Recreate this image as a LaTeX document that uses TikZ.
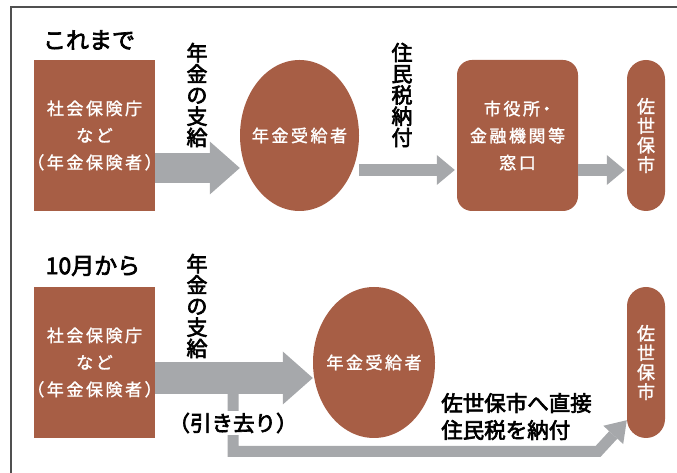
\documentclass[tikz,border=0pt]{standalone}
\usepackage{fontspec}
\setmainfont{Noto Sans CJK JP}
\newfontfamily\boxfont[LetterSpace=15,RawFeature=+halt,FakeBold=1.5]{Noto Sans CJK JP}
\newfontfamily\cityfont[FakeBold=1.5]{Noto Sans CJK JP}
\newfontfamily\blackfont[RawFeature=+halt,FakeBold=3]{Noto Sans CJK JP}
\usetikzlibrary{arrows.meta,shapes.geometric}
\definecolor{boxc}{RGB}{167,94,69}
\definecolor{arrowc}{RGB}{166,168,171}
\definecolor{framec}{RGB}{80,80,80}
\def\boxwd{121pt}
\def\boxht{151pt}
\tikzset{
  orgbox/.style={fill=boxc, minimum width=\boxwd, minimum height=\boxht, inner sep=0pt,
    text=white, align=center, font=\boxfont\fontsize{17}{27}\selectfont},
  person/.style={orgbox, ellipse, inner xsep=-12pt},
  office/.style={orgbox, rounded corners=15pt},
  city/.style={orgbox, minimum width=38pt, rounded corners=19pt,
    font=\cityfont\fontsize{18}{19.5}\selectfont},
  title/.style={inner sep=0pt, font=\blackfont\fontsize{23}{27}\selectfont},
  vlabel/.style={inner sep=0pt, align=center, font=\blackfont\fontsize{21}{21.2}\selectfont},
  note/.style={inner sep=2pt, align=left, font=\blackfont\fontsize{21.5}{27}\selectfont},
  bigarrow/.style={draw=arrowc, line width=#1, -{Triangle[length=30pt,width=53pt,line width=0pt]}},
  bigarrow/.default=30pt,
  thinarrow/.style={draw=arrowc, line width=12pt, -{Triangle[length=18pt,width=30pt,line width=0pt]}},
  bentarrow/.style={draw=arrowc, line width=11pt, line join=miter,
    -{Triangle[length=20pt,width=27pt,line width=0pt]}}
}

\begin{document}
\begin{tikzpicture} [x=1pt, y=1pt]
\useasboundingbox (0,0) rectangle (677,473);
\draw [framec, line width=1.5pt] (11,0) -- (11,466) -- (677,466);
\begin{scope} [shift={(0,337.5)}]
  \node (title1) at (89,95.5) [title] {これまで};
  \node (box1) at (94.5,0) [orgbox] {社会保険庁\\など\\（年金保険者）};
  \node (lbl1) at (197,40.5) [vlabel] {年\\金\\の\\支\\給};
  \node (ell1) at (299.5,0) [person, minimum width=119pt] {年金受給者};
  \node (lbl2) at (402,40.5) [vlabel] {住\\民\\税\\納\\付};
  \node (box2) at (517.5,0) [office] {市役所・\\金融機関等\\窓口};
  \node (pill1) at (646,0) [city] {佐\\世\\保\\市};
  \draw [bigarrow] ([yshift=-32.5pt]box1.east) -- ([yshift=-32.5pt]ell1.west);
  \draw [thinarrow] ([yshift=-34.5pt]ell1.east) -- ([yshift=-34.5pt,xshift=-2pt]box2.west);
  \draw [thinarrow] ([yshift=-34.5pt]box2.east) -- ([yshift=-34.5pt,xshift=-2pt]pill1.west);
\end{scope}
\begin{scope} [shift={(0,110.5)}]
  \node (title2) at (93,96.5) [title] {10月から};
  \node (box3) at (94.5,0) [orgbox] {社会保険庁\\など\\（年金保険者）};
  \node (lbl3) at (197,56.5) [vlabel] {年\\金\\の\\支\\給};
  \node (ell2) at (374,0) [person, minimum width=122pt] {年金受給者};
  \node (pill2) at (646,0) [city] {佐\\世\\保\\市};
  \node (direct) at (516.5,-54) [note] {佐世保市へ直接\\住民税を納付};
  \draw [bigarrow=32pt] ([yshift=-15.5pt]box3.east) -- ([yshift=-15.5pt]ell2.west);
  \coordinate (branch) at (233,-15.5);
  \coordinate (bend) at (598,-89);
  \draw [bentarrow] (branch) |- (bend) -- ([yshift=18pt]pill2.south west);
  \node (debit) at (233,-60.5) [note, fill=white] {（引き去り）};
\end{scope}
\end{tikzpicture}
\end{document}
